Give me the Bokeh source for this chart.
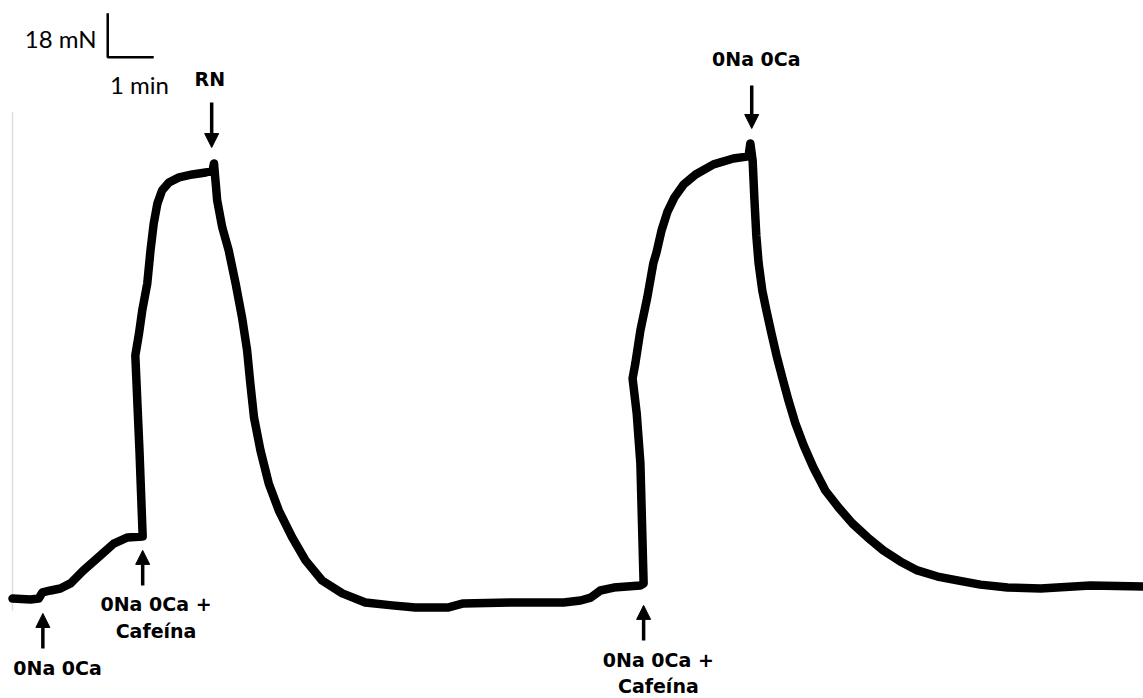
from bokeh.plotting import figure
from bokeh.models import Arrow, NormalHead, ColumnDataSource
from bokeh.core.properties import value
from bokeh.embed import file_html
from bokeh.resources import INLINE

# ---------------- data (read from the recording) ----------------
# time in minutes, force in mN relative to the initial baseline
time_min = [0.00, 0.39, 0.57, 0.65, 0.83, 1.04, 1.26, 1.54, 1.91, 2.20, 2.50, 2.83,
            2.76, 2.67, 2.75, 2.82, 2.93, 3.00, 3.07, 3.15, 3.25, 3.40, 3.62, 3.91, 4.20, 4.35, 4.38,
            4.45, 4.56, 4.70, 4.85, 4.99, 5.10, 5.17, 5.25, 5.39, 5.57, 5.79, 6.08, 6.37, 6.73,
            7.17, 7.67, 8.25, 8.76, 9.46, 9.80, 10.89, 11.98, 12.35, 12.57, 12.78, 13.07, 13.65,
            13.72, 13.65, 13.57, 13.48, 13.54, 13.65, 13.80, 13.93, 14.00, 14.11, 14.24, 14.39,
            14.59, 14.85, 15.24, 15.67, 16.00, 16.04,
            16.09, 16.13, 16.17, 16.22, 16.30, 16.39, 16.50, 16.61, 16.74, 16.87, 17.02, 17.20,
            17.41, 17.67, 17.96, 18.26, 18.59, 18.93, 19.30, 19.67, 20.11, 20.54, 21.04, 21.63,
            22.35, 23.43, 24.59]
force_mN = [0.8, 0.4, 0.8, 3.3, 4.1, 4.9, 7.0, 12.3, 18.4, 23.3, 25.8, 26.2,
            61.4, 100.2, 109.2, 118.6, 129.7, 143.2, 154.2, 162.4, 167.7, 171.0, 173.1, 174.3, 175.1, 175.9, 178.8,
            163.6, 152.6, 143.2, 129.7, 115.8, 102.3, 88.8, 74.9, 61.4, 47.9, 36.8, 25.8, 16.4, 8.2,
            2.9, -0.8, -2.0, -2.9, -2.9, -1.2, -0.8, -0.8, 0.0, 1.2, 4.1, 5.3, 6.1,
            7.0, 56.1, 76.5, 90.8, 97.0, 110.5, 124.0, 137.9, 142.4, 151.4, 159.1, 164.9,
            170.2, 174.3, 178.4, 180.8, 181.7, 187.0,
            180.0, 163.6, 149.3, 137.9, 126.8, 118.6, 109.2, 100.2, 90.8, 81.8, 72.4, 63.4,
            54.4, 45.0, 38.0, 31.5, 25.8, 20.5, 16.0, 12.3, 9.8, 8.2, 6.5, 5.3,
            4.9, 6.1, 5.7]

# solution changes
event_labels = ["0Na 0Ca", "0Na 0Ca +\nCafeína", "RN", "0Na 0Ca +\nCafeína", "0Na 0Ca"]
event_time = [0.66, 2.83, 4.33, 13.72, 16.07]

# scale bar
scale_force_mN = 18
scale_time_min = 1
scale_force_label = "18 mN"
scale_time_label = "1 min"

# ---------------- layout ----------------
# arrow tip / tail force levels for each event (annotation placement)
arrow_tip = [-5.3, 20.5, 185.3, -2.0, 193.1]
arrow_tail = [-19.6, 6.1, 203.7, -16.4, 210.7]
# label anchors (time offset from the event, force level of each text line)
label_dt = [0.32, 0.29, -0.04, 0.32, 0.10]
label_lines_y = [[-27.8], [-1.6, -12.6], [213.5], [-24.5, -34.8], [221.6]]

p = figure(width=1143, height=698, x_range=(-0.2609, 24.587), y_range=(-40.09, 245.45),
           output_backend="svg", toolbar_location=None, min_border=0,
           x_axis_location=None, y_axis_location=None)
p.grid.visible = False
p.outline_line_color = None
p.background_fill_color = "white"
p.border_fill_color = "white"

# faint edge line of the original chart paper
p.segment(x0=[time_min[0]], y0=[-4.1], x1=[time_min[0]], y1=[199.7],
          line_color="#dedede", line_width=1.5)

# the force trace
p.line(time_min, force_mN, line_color="black", line_width=8.5,
       line_join="round", line_cap="round")

# event arrows and labels
tx, ty, tt = [], [], []
for lab, t, tip, tail, dt, ys in zip(event_labels, event_time, arrow_tip, arrow_tail,
                                    label_dt, label_lines_y):
    p.add_layout(Arrow(end=NormalHead(size=14, fill_color="black", line_color="black"),
                       x_start=t, y_start=tail, x_end=t, y_end=tip,
                       line_color="black", line_width=3.5))
    for line, y in zip(lab.split("\n"), ys):
        tx.append(t + dt)
        ty.append(y)
        tt.append(line)
p.text(x="x", y="y", text="t", source=ColumnDataSource(dict(x=tx, y=ty, t=tt)),
       text_font=value("DejaVu Sans"), text_font_style="bold", text_font_size="19px",
       text_align="center", text_baseline="middle", text_color="black")

# scale bar
sb_x, sb_y = 2.07, 222.2
p.line([sb_x, sb_x, sb_x + scale_time_min],
       [sb_y + scale_force_mN, sb_y, sb_y],
       line_color="black", line_width=2.5)
p.text(x=[sb_x - 0.24], y=[sb_y + scale_force_mN * 0.43], text=[scale_force_label],
       text_font=value("Lato"), text_font_size="24px",
       text_align="right", text_baseline="middle", text_color="black")
p.text(x=[sb_x + scale_time_min * 0.69], y=[211.1], text=[scale_time_label],
       text_font=value("Lato"), text_font_size="24px",
       text_align="center", text_baseline="middle", text_color="black")

open("out.html", "w").write(file_html(p, INLINE))
